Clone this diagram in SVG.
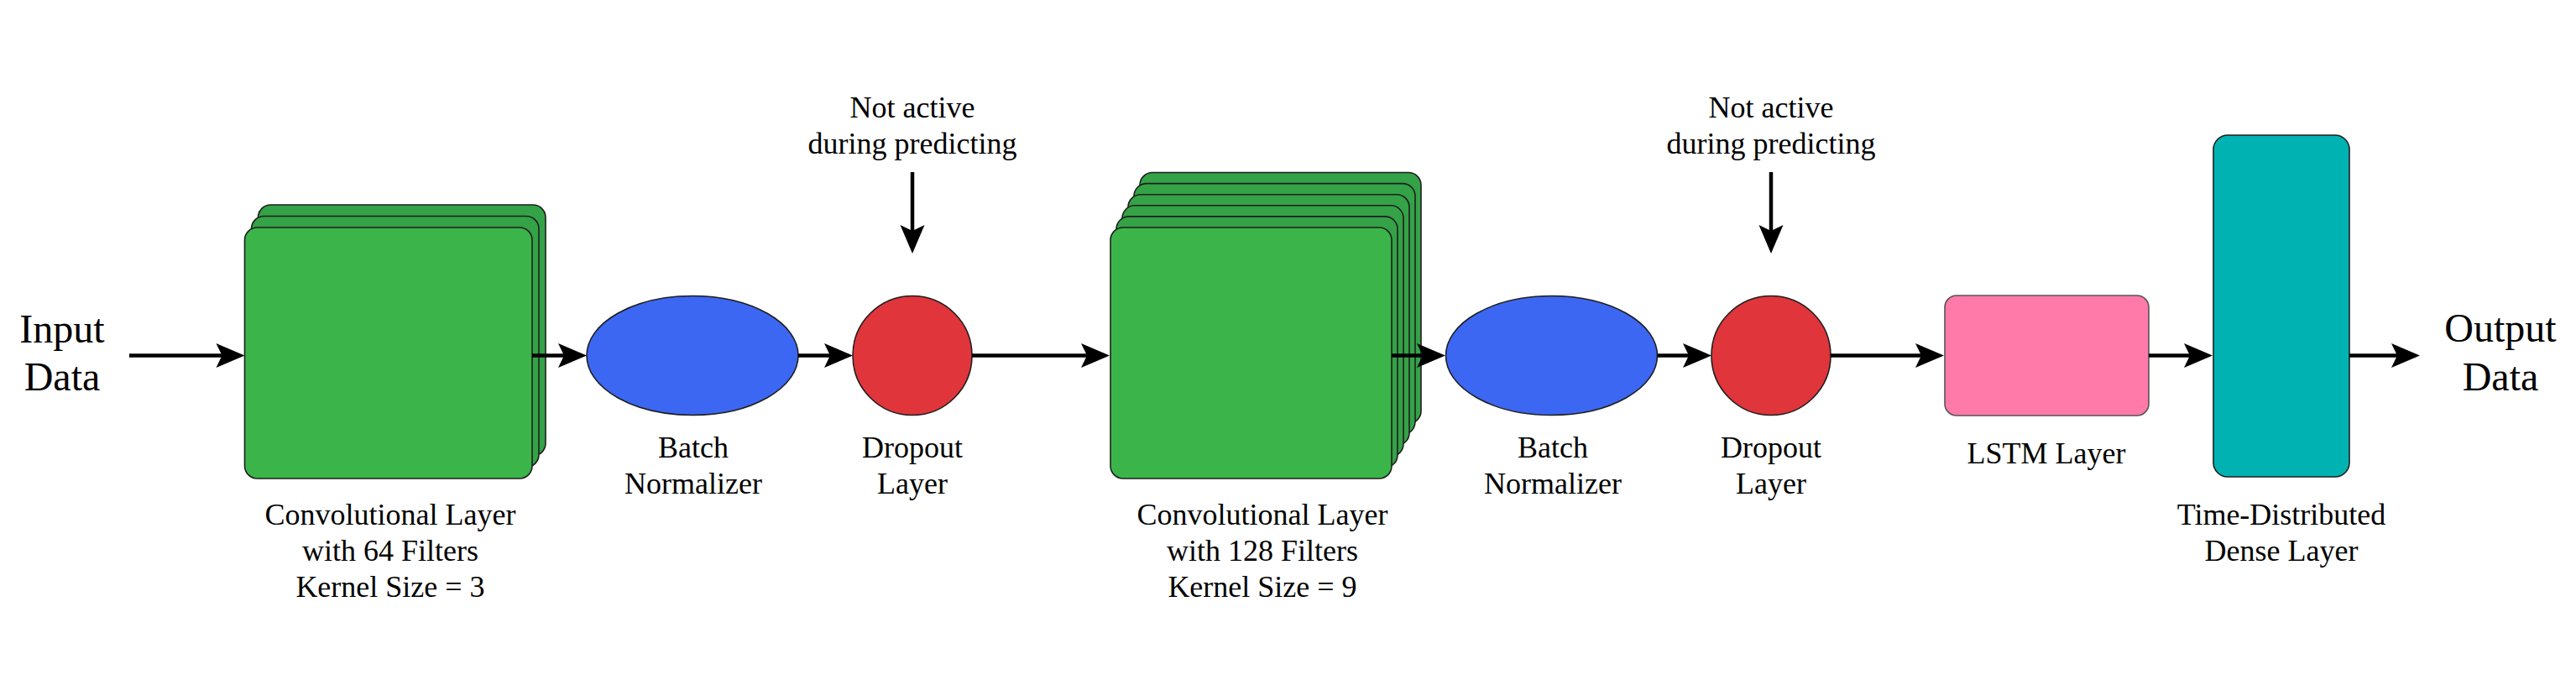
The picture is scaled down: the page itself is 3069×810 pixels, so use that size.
<svg xmlns="http://www.w3.org/2000/svg" width="3069" height="810" viewBox="0 0 3069 810">
<style>
text{font-family:"Liberation Serif","Times New Roman",serif;fill:#000;text-anchor:middle}
.lbl{font-size:36px}
.io{font-size:48px}
.nd{stroke:#1e1e1e;stroke-width:1.6}
.cf{fill:#3bb54a}
.cb{fill:#34a246}
.bn{fill:#3c67f2}
.dp{fill:#e0353b}
.ls{fill:#ff7aa8;stroke:#555}
.dn{fill:#00b3b2}
.cn{stroke:#000;stroke-width:4.5;fill:none;marker-end:url(#ah)}
</style>
<defs>
<marker id="ah" markerUnits="userSpaceOnUse" markerWidth="36" markerHeight="30" refX="14" refY="14.5" orient="auto" overflow="visible">
<path d="M0,0 L34,14.5 L0,29 L7,14.5 Z" fill="#000"/>
</marker>
</defs>
<rect width="3069" height="810" fill="#fff"/>

<g id="input-label">
<text class="io" x="74" y="408">Input</text>
<text class="io" x="74" y="465">Data</text>
</g>

<g id="conv1">
<rect class="nd cb" x="307.5" y="244" width="342.5" height="299" rx="15"/>
<rect class="nd cb" x="299.5" y="257.5" width="342.5" height="299" rx="15"/>
<rect class="nd cf" x="291.5" y="271" width="342.5" height="299" rx="15"/>
<text class="lbl" x="465" y="625">Convolutional Layer</text>
<text class="lbl" x="465" y="668">with 64 Filters</text>
<text class="lbl" x="465" y="711">Kernel Size = 3</text>
</g>

<g id="batch1">
<ellipse class="nd bn" cx="825" cy="423.5" rx="126" ry="71"/>
<text class="lbl" x="826" y="545">Batch</text>
<text class="lbl" x="826" y="588">Normalizer</text>
</g>

<g id="dropout1">
<circle class="nd dp" cx="1087" cy="423.5" r="71"/>
<text class="lbl" x="1087" y="545">Dropout</text>
<text class="lbl" x="1087" y="588">Layer</text>
</g>

<g id="note1">
<text class="lbl" x="1087" y="140">Not active</text>
<text class="lbl" x="1087" y="183">during predicting</text>
</g>

<g id="conv2">
<rect class="nd cb" x="1358" y="205.5" width="335" height="299" rx="15"/>
<rect class="nd cb" x="1351" y="218.6" width="335" height="299" rx="15"/>
<rect class="nd cb" x="1344" y="231.7" width="335" height="299" rx="15"/>
<rect class="nd cb" x="1337" y="244.8" width="335" height="299" rx="15"/>
<rect class="nd cb" x="1330" y="257.9" width="335" height="299" rx="15"/>
<rect class="nd cf" x="1323" y="271" width="335" height="299" rx="15"/>
<text class="lbl" x="1504" y="625">Convolutional Layer</text>
<text class="lbl" x="1504" y="668">with 128 Filters</text>
<text class="lbl" x="1504" y="711">Kernel Size = 9</text>
</g>

<g id="batch2">
<ellipse class="nd bn" cx="1848.5" cy="423.5" rx="126" ry="71"/>
<text class="lbl" x="1850" y="545">Batch</text>
<text class="lbl" x="1850" y="588">Normalizer</text>
</g>

<g id="dropout2">
<circle class="nd dp" cx="2110" cy="423.5" r="71"/>
<text class="lbl" x="2110" y="545">Dropout</text>
<text class="lbl" x="2110" y="588">Layer</text>
</g>

<g id="note2">
<text class="lbl" x="2110" y="140">Not active</text>
<text class="lbl" x="2110" y="183">during predicting</text>
</g>

<g id="lstm">
<rect class="nd ls" x="2317" y="352" width="243" height="143" rx="14"/>
<text class="lbl" x="2438" y="552">LSTM Layer</text>
</g>

<g id="dense">
<rect class="nd dn" x="2637" y="161" width="162" height="407" rx="17"/>
<text class="lbl" x="2718" y="625">Time-Distributed</text>
<text class="lbl" x="2718" y="668">Dense Layer</text>
</g>

<g id="output-label">
<text class="io" x="2979" y="407">Output</text>
<text class="io" x="2979" y="465">Data</text>
</g>

<g id="connectors">
<line class="cn" x1="154" y1="423.5" x2="271.5" y2="423.5"/>
<line class="cn" x1="634" y1="423.5" x2="679" y2="423.5"/>
<line class="cn" x1="951" y1="423.5" x2="996" y2="423.5"/>
<line class="cn" x1="1158" y1="423.5" x2="1302" y2="423.5"/>
<line class="cn" x1="1658" y1="423.5" x2="1702" y2="423.5"/>
<line class="cn" x1="1974.5" y1="423.5" x2="2019" y2="423.5"/>
<line class="cn" x1="2181" y1="423.5" x2="2296" y2="423.5"/>
<line class="cn" x1="2560" y1="423.5" x2="2616" y2="423.5"/>
<line class="cn" x1="2799" y1="423.5" x2="2863" y2="423.5"/>
<line class="cn" x1="1087" y1="205" x2="1087" y2="282"/>
<line class="cn" x1="2110" y1="205" x2="2110" y2="282"/>
</g>
</svg>
